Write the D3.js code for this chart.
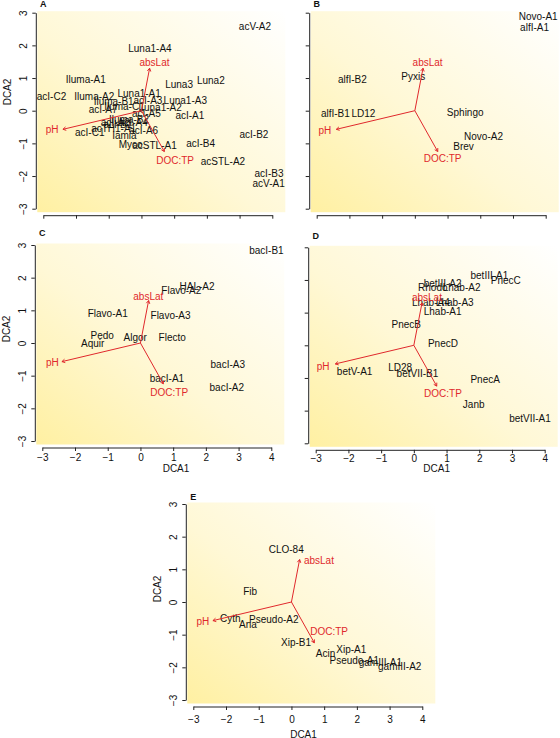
<!DOCTYPE html>
<html><head><meta charset="utf-8">
<script src="https://cdn.jsdelivr.net/npm/d3@7"></script>
<style>body{margin:0;background:#fff}svg{display:block;font-family:"Liberation Sans",Arial,sans-serif}</style>
</head><body><svg id="c" width="560" height="738"></svg>
<script>
// ---------- data ----------
const xTicks = [-3, -2, -1, 0, 1, 2, 3, 4];
const yTicks = [-3, -2, -1, 0, 1, 2, 3];
const envNames = ["absLat", "pH", "DOC:TP"];
const envDCA1 = [0.25, -2.4, 0.7];
const envDCA2 = [1.3, -0.57, -1.25];

const groupsA = [
  ["acV-A2", 3.47, 2.59], ["Luna1-A4", 0.26, 1.90], ["Iluma-A1", -1.70, 0.97],
  ["Luna3", 1.15, 0.79], ["Luna2", 2.12, 0.92], ["acI-C2", -2.75, 0.43],
  ["Iluma-A2", -1.44, 0.43], ["Luna1-A1", -0.07, 0.53], ["Iluma-B1", -0.85, 0.27],
  ["acI-A3", 0.20, 0.31], ["Luna1-A3", 1.34, 0.31], ["Iluma-C1", -0.52, 0.13],
  ["Luna1-A2", 0.57, 0.10], ["acI-A7", -1.17, 0.04], ["acI-A5", 0.15, -0.10],
  ["acI-A1", 1.48, -0.15], ["Iluma-B2", -0.38, -0.26], ["acI-A4", -0.25, -0.37],
  ["acI-A2", -0.80, -0.36], ["acI-B1", -0.72, -0.42], ["acTH1-A1", -0.85, -0.54],
  ["acI-A6", 0.07, -0.62], ["acI-C1", -1.58, -0.67], ["Iamia", -0.52, -0.77],
  ["Myco", -0.33, -1.02], ["acSTL-A1", 0.40, -1.06], ["acI-B4", 1.81, -1.01],
  ["acI-B2", 3.44, -0.74], ["acSTL-A2", 2.49, -1.54], ["acI-B3", 3.90, -1.91],
  ["acV-A1", 3.89, -2.22]
];
const groupsB = [
  ["Novo-A1", 3.77, 2.89], ["alfI-A1", 3.66, 2.54], ["alfI-B2", -1.91, 0.95],
  ["Pyxis", -0.05, 1.05], ["alfI-B1", -2.43, -0.08], ["LD12", -1.57, -0.08],
  ["Sphingo", 1.54, -0.05], ["Novo-A2", 2.10, -0.79], ["Brev", 1.49, -1.10]
];
const groupsC = [
  ["bacI-B1", 3.85, 2.84], ["HAL-A2", 1.73, 1.72], ["Flavo-A2", 1.25, 1.60],
  ["Flavo-A1", -1.00, 0.90], ["Flavo-A3", 0.92, 0.85], ["Pedo", -1.17, 0.24],
  ["Aquir", -1.46, 0.00], ["Algor", -0.16, 0.18], ["Flecto", 0.97, 0.18],
  ["bacI-A3", 2.67, -0.66], ["bacI-A1", 0.81, -1.08], ["bacI-A2", 2.64, -1.35]
];
const groupsD = [
  ["betIII-A1", 2.31, 2.14], ["PnecC", 2.81, 1.98], ["betIII-A2", 0.88, 1.88],
  ["Rhodo", 0.58, 1.76], ["Lhab-A2", 1.46, 1.76], ["Lhab-A4", 0.52, 1.30],
  ["Lhab-A3", 1.25, 1.30], ["Lhab-A1", 0.88, 1.04], ["PnecB", -0.23, 0.63],
  ["PnecD", 0.89, 0.06], ["LD28", -0.42, -0.67], ["betVII-B1", 0.11, -0.85],
  ["betV-A1", -1.81, -0.81], ["PnecA", 2.18, -1.05], ["Janb", 1.83, -1.80],
  ["betVII-A1", 3.55, -2.23]
];
const groupsE = [
  ["CLO-84", -0.16, 1.60], ["Fib", -1.26, 0.33], ["Cyth", -1.87, -0.50],
  ["Ana", -1.33, -0.68], ["Pseudo-A2", -0.54, -0.53], ["Xip-B1", 0.14, -1.25],
  ["Acin", 1.04, -1.58], ["Xip-A1", 1.83, -1.46], ["Pseudo-A1", 1.92, -1.79],
  ["gamIII-A1", 2.72, -1.84], ["gamIII-A2", 3.31, -1.97]
];
// environmental vector label positions (DCA1, DCA2) per panel
const envLabA = [[0.40, 1.48], [-2.73, -0.59], [1.03, -1.52]];
const envLabB = [[0.39, 1.47], [-2.75, -0.62], [0.85, -1.47]];
const envLabC = [[0.24, 1.43], [-2.69, -0.61], [0.88, -1.53]];
const envLabD = [[0.40, 1.47], [-2.77, -0.64], [0.89, -1.48]];
const envLabE = [[0.84, 1.28], [-2.71, -0.61], [1.15, -0.89]];

// ---------- layout ----------
const panels = [
  {id:"A", groups:groupsA, envLab:envLabA, left:43.3, top:12.7, xLab:false, yLab:true, letterY:4, yTitleY:92},
  {id:"B", groups:groupsB, envLab:envLabB, left:316.7, top:12.7, xLab:false, yLab:false, letterY:4},
  {id:"C", groups:groupsC, envLab:envLabC, left:42.3, top:245, xLab:true, yLab:true, letterY:233.3, yTitleY:329, xTitleX:176, tickY:457.3, titleY:468.3},
  {id:"D", groups:groupsD, envLab:envLabD, left:315.7, top:247.3, xLab:true, yLab:false, letterY:235.7, xTitleX:436.7, tickY:458.3, titleY:468.3},
  {id:"E", groups:groupsE, envLab:envLabE, left:193.3, top:504, xLab:true, yLab:true, letterY:497.3, yTitleY:589, xTitleX:303.5, tickY:719.3, titleY:734}
];
const W = 229, H = 196;
const RED = "#e0282c", INK = "#111";
const fmt = d3.format("d");

const svg = d3.select("#c");
const defs = svg.append("defs");
const grad = defs.append("linearGradient").attr("id", "bg")
  .attr("x1", 0).attr("y1", 1).attr("x2", 1).attr("y2", 0);
grad.append("stop").attr("offset", 0).attr("stop-color", "#fff0a2");
grad.append("stop").attr("offset", 0.45).attr("stop-color", "#fff8d6");
grad.append("stop").attr("offset", 1).attr("stop-color", "#ffffff");

panels.forEach(p => {
  const x = d3.scaleLinear().domain([-3, 4]).range([p.left, p.left + W]);
  const y = d3.scaleLinear().domain([-3, 3]).range([p.top + H, p.top]);
  const g = svg.append("g");

  g.append("rect").attr("x", p.left - 6).attr("y", p.top - 1.5)
    .attr("width", W + 6 + 13).attr("height", H + 5)
    .attr("fill", "url(#bg)");

  // axes
  const yAxisX = p.left - 7.5, xAxisY = p.top + 202.5;
  const ya = g.append("g").attr("transform", `translate(${yAxisX},0)`)
    .call(d3.axisLeft(y).tickValues(yTicks).tickFormat(fmt).tickSize(3.5).tickSizeOuter(0).tickPadding(0));
  ya.select(".domain").attr("stroke", "#222");
  ya.selectAll(".tick line").attr("stroke", "#222");
  if (p.yLab) {
    ya.selectAll(".tick text").attr("x", 0)
      .attr("transform", "translate(-12.5,0) rotate(-90)")
      .attr("text-anchor", "middle").attr("dy", "0.35em")
      .attr("font-size", 10).attr("fill", INK).attr("font-family", "Liberation Sans, Arial, sans-serif");
  } else ya.selectAll(".tick text").remove();

  const xa = g.append("g").attr("transform", `translate(0,${xAxisY})`)
    .call(d3.axisBottom(x).tickValues(xTicks).tickFormat(fmt).tickSize(3.5).tickSizeOuter(0));
  xa.select(".domain").attr("stroke", "#222");
  xa.selectAll(".tick line").attr("stroke", "#222");
  if (p.xLab) {
    xa.selectAll(".tick text").attr("y", p.tickY - xAxisY).attr("dy", "0.35em")
      .attr("font-size", 10).attr("fill", INK).attr("font-family", "Liberation Sans, Arial, sans-serif");
    g.append("text").attr("x", p.xTitleX).attr("y", p.titleY).attr("dy", "0.35em")
      .attr("text-anchor", "middle").attr("font-size", 10).attr("fill", INK).text("DCA1");
  } else xa.selectAll(".tick text").remove();

  if (p.yLab) {
    g.append("text").attr("transform", `translate(${p.left - 36},${p.yTitleY}) rotate(-90)`)
      .attr("text-anchor", "middle").attr("dy", "0.35em")
      .attr("font-size", 10).attr("fill", INK).text("DCA2");
  }

  g.append("text").attr("x", p.left).attr("y", p.letterY).attr("dy", "0.35em")
    .attr("text-anchor", "middle").attr("font-size", 9).attr("font-weight", "bold")
    .attr("fill", INK).text(p.id);

  // group labels
  g.selectAll("text.grp").data(p.groups).join("text").attr("class", "grp")
    .attr("x", d => x(d[1])).attr("y", d => y(d[2])).attr("dy", "0.35em")
    .attr("text-anchor", "middle").attr("font-size", 10).attr("fill", INK)
    .text(d => d[0]);

  // environmental arrows
  envNames.forEach((n, i) => {
    const x0 = x(0), y0 = y(0), x1 = x(envDCA1[i]), y1 = y(envDCA2[i]);
    const a = Math.atan2(y1 - y0, x1 - x0), L = 3.5, s = Math.PI / 6;
    g.append("line").attr("x1", x0).attr("y1", y0).attr("x2", x1).attr("y2", y1)
      .attr("stroke", RED).attr("stroke-width", 1);
    g.append("path").attr("d",
      `M${x1 - L * Math.cos(a - s)},${y1 - L * Math.sin(a - s)}L${x1},${y1}L${x1 - L * Math.cos(a + s)},${y1 - L * Math.sin(a + s)}`)
      .attr("stroke", RED).attr("fill", "none").attr("stroke-width", 1);
    g.append("text").attr("x", x(p.envLab[i][0])).attr("y", y(p.envLab[i][1])).attr("dy", "0.35em")
      .attr("text-anchor", "middle").attr("font-size", 10).attr("fill", RED).text(n);
  });
});
</script></body></html>
